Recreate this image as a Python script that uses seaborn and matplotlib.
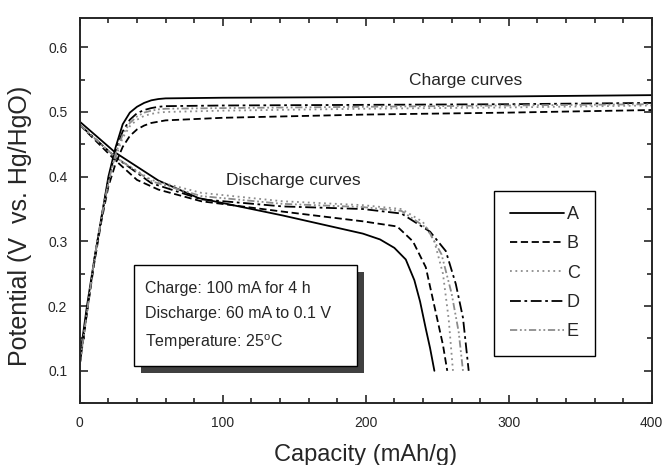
import matplotlib
matplotlib.use("Agg")
import pandas as pd
import seaborn as sns
import matplotlib.pyplot as plt
from matplotlib import patheffects
from matplotlib.patches import Rectangle
from matplotlib.lines import Line2D
from matplotlib.ticker import MultipleLocator

# Curvas de carga / descarga de los electrodos A-E

samples = ["A", "B", "C", "D", "E"]

# carga: capacidad (mAh/g) y potencial (V vs. Hg/HgO)
charge_cap = [0, 5, 10, 15, 20, 25, 30, 35, 40, 45, 50, 55, 60, 100, 200, 300, 400]
charge_A = [0.120, 0.200, 0.270, 0.335, 0.400, 0.445, 0.481, 0.499, 0.508, 0.514, 0.518, 0.520, 0.521, 0.522, 0.523, 0.524, 0.526]
charge_B = [0.110, 0.190, 0.265, 0.330, 0.385, 0.420, 0.446, 0.463, 0.473, 0.479, 0.483, 0.485, 0.487, 0.491, 0.496, 0.499, 0.503]
charge_C = [0.110, 0.190, 0.270, 0.335, 0.390, 0.430, 0.460, 0.478, 0.488, 0.494, 0.497, 0.499, 0.500, 0.502, 0.505, 0.507, 0.510]
charge_D = [0.110, 0.190, 0.270, 0.335, 0.395, 0.440, 0.470, 0.488, 0.498, 0.503, 0.506, 0.508, 0.509, 0.510, 0.511, 0.512, 0.514]
charge_E = [0.110, 0.190, 0.270, 0.335, 0.392, 0.435, 0.465, 0.483, 0.493, 0.499, 0.502, 0.504, 0.505, 0.506, 0.508, 0.510, 0.512]

# descarga
dis_cap_A = [0, 25, 55, 83, 142, 198, 210, 220, 228, 234, 238, 242, 245, 248]
dis_A = [0.485, 0.437, 0.394, 0.367, 0.340, 0.312, 0.303, 0.290, 0.272, 0.240, 0.207, 0.165, 0.135, 0.100]
dis_cap_B = [0, 25, 40, 55, 85, 142, 198, 222, 233, 242, 249, 254, 257]
dis_B = [0.480, 0.425, 0.395, 0.380, 0.362, 0.346, 0.331, 0.323, 0.300, 0.260, 0.190, 0.140, 0.100]
dis_cap_C = [0, 25, 50, 85, 142, 198, 225, 240, 248, 254, 258, 261]
dis_C = [0.480, 0.430, 0.395, 0.375, 0.362, 0.356, 0.350, 0.330, 0.300, 0.250, 0.180, 0.100]
dis_cap_D = [0, 25, 50, 85, 142, 198, 225, 245, 256, 263, 268, 272]
dis_D = [0.480, 0.430, 0.390, 0.365, 0.354, 0.350, 0.343, 0.315, 0.285, 0.234, 0.182, 0.100]
dis_cap_E = [0, 25, 50, 85, 142, 198, 225, 243, 253, 260, 265, 268]
dis_E = [0.480, 0.430, 0.393, 0.370, 0.358, 0.353, 0.347, 0.320, 0.280, 0.220, 0.160, 0.100]

charge_v = {"A": charge_A, "B": charge_B, "C": charge_C, "D": charge_D, "E": charge_E}
dis_cap = {"A": dis_cap_A, "B": dis_cap_B, "C": dis_cap_C, "D": dis_cap_D, "E": dis_cap_E}
dis_v = {"A": dis_A, "B": dis_B, "C": dis_C, "D": dis_D, "E": dis_E}

rows = []
for s in samples:
    for c, v in zip(charge_cap, charge_v[s]):
        rows.append({"cap": c, "pot": v, "muestra": s, "curva": "carga"})
    for c, v in zip(dis_cap[s], dis_v[s]):
        rows.append({"cap": c, "pot": v, "muestra": s, "curva": "descarga"})
df = pd.DataFrame(rows)

colores = {"A": "black", "B": "black", "C": "0.55", "D": "black", "E": "0.55"}
trazos = {"A": "", "B": (4, 2), "C": (1, 2), "D": (6, 2, 1.5, 2), "E": (4, 1.5, 1, 1.5, 1, 1.5)}

sns.set_style("ticks")
plt.rcParams["font.family"] = ["Liberation Sans", "DejaVu Sans"]
plt.rcParams["mathtext.fontset"] = "custom"
plt.rcParams["mathtext.rm"] = "Liberation Sans"
plt.rcParams["mathtext.it"] = "Liberation Sans:italic"

fig = plt.figure(figsize=(6.65, 4.65), dpi=100)
ax = fig.add_axes([0.12, 0.133, 0.86, 0.828])

sns.lineplot(data=df, x="cap", y="pot", hue="muestra", style="muestra",
             units="curva", estimator=None, sort=False, palette=colores,
             dashes=trazos, linewidth=1.3, legend=False, ax=ax)

ax.set_xlim(0, 400)
ax.set_ylim(0.05, 0.645)
ax.xaxis.set_major_locator(MultipleLocator(100))
ax.xaxis.set_minor_locator(MultipleLocator(20))
ax.yaxis.set_major_locator(MultipleLocator(0.1))
ax.yaxis.set_minor_locator(MultipleLocator(0.05))
ax.tick_params(which="both", direction="in", top=True, right=True, width=1.2,
               labelsize=10, pad=9)
ax.tick_params(which="major", length=6)
ax.tick_params(which="minor", length=3.5)
for sp in ax.spines.values():
    sp.set_linewidth(1.4)
    sp.set_visible(True)

ax.set_xlabel("Capacity (mAh/g)", fontsize=17, labelpad=10)
ax.set_ylabel("Potential (V  vs. Hg/HgO)", fontsize=18)
ax.yaxis.set_label_coords(-0.084, 0.46)

ax.text(270, 0.548, "Charge curves", fontsize=12.5, ha="center", va="center")
ax.text(149, 0.394, "Discharge curves", fontsize=12.5, ha="center", va="center")

# cuadro de condiciones con sombra
caja = Rectangle((0.094, 0.096), 0.39, 0.262, transform=ax.transAxes,
                 facecolor="white", edgecolor="black", linewidth=1, zorder=4,
                 path_effects=[patheffects.SimplePatchShadow(offset=(5, -5), shadow_rgbFace="0.25", alpha=1),
                               patheffects.Normal()])
ax.add_patch(caja)
ax.text(0.114, 0.299, "Charge: 100 mA for 4 h", transform=ax.transAxes, fontsize=11.5, va="center", zorder=5)
ax.text(0.114, 0.234, "Discharge: 60 mA to 0.1 V", transform=ax.transAxes, fontsize=11.5, va="center", zorder=5)
ax.text(0.114, 0.158, r"Temperature: 25$^\mathregular{o}$C", transform=ax.transAxes, fontsize=11.5, va="center", zorder=5)

handles = [Line2D([], [], color=colores[s], dashes=trazos[s] if trazos[s] else (None, None),
                  linestyle="-" if not trazos[s] else "--", linewidth=1.3) for s in samples]
leg = ax.legend(handles, samples, loc="center", bbox_to_anchor=(0.734, 0.117, 0.158, 0.441),
                bbox_transform=ax.transAxes, fontsize=13, handlelength=3.0, handletextpad=0.15,
                labelspacing=0.68, borderpad=0.85, fancybox=False, framealpha=1, edgecolor="black")
leg.get_frame().set_linewidth(1)

fig.savefig("out.png", dpi=100)
